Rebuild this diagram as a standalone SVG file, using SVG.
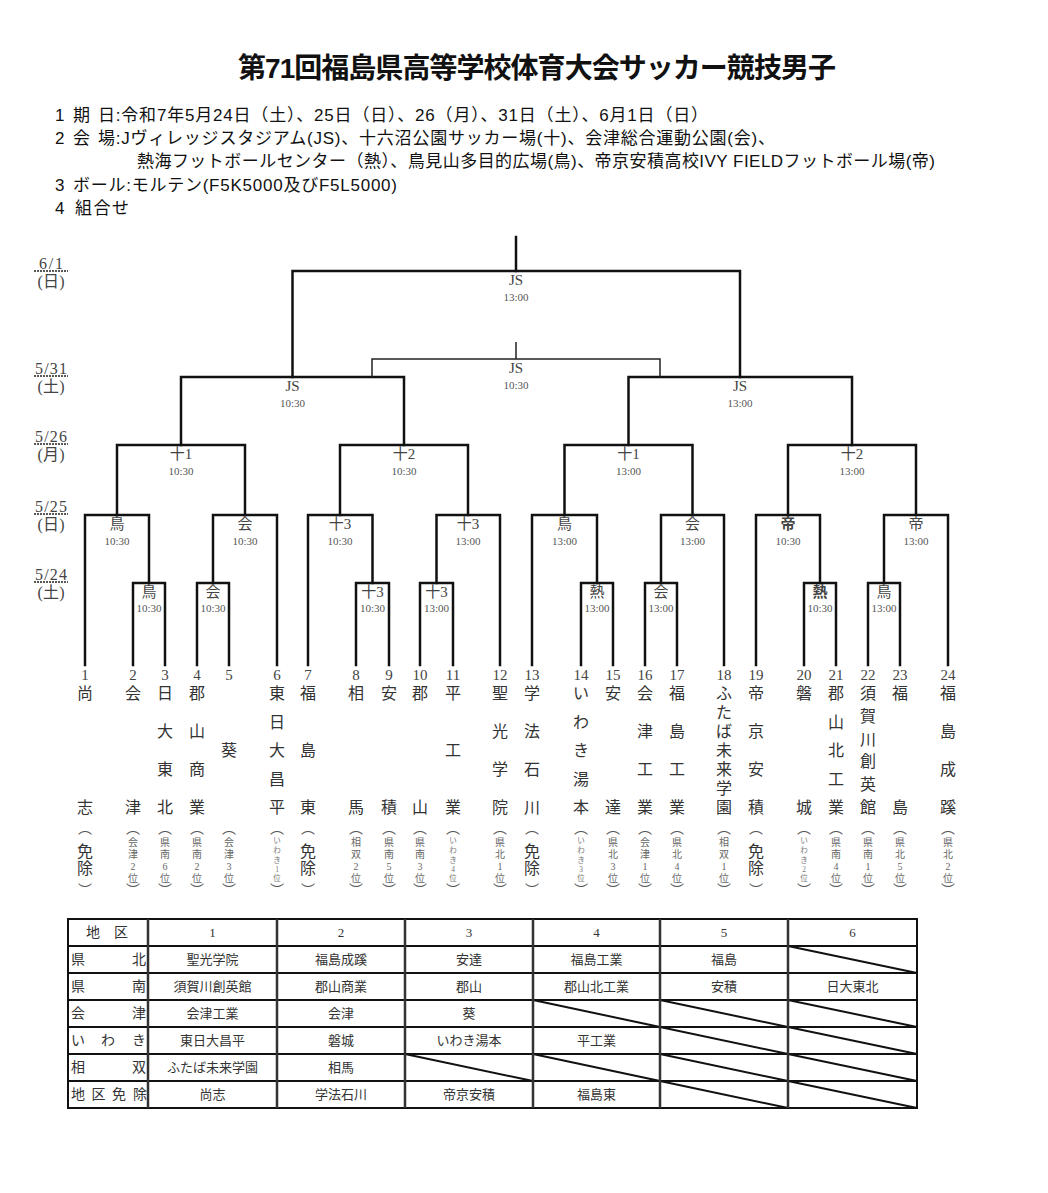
<svg xmlns="http://www.w3.org/2000/svg" width="1048" height="1193" viewBox="0 0 1048 1193">
<style>
.bg{fill:#fff}
.ln{fill:none;stroke:#111;stroke-width:2.5;stroke-linecap:square}
.thin{fill:none;stroke:#222;stroke-width:1.5}
.hd{font-family:"Liberation Sans","Noto Sans CJK JP",sans-serif;font-size:17px;fill:#111;dominant-baseline:central}
.ttl{font-family:"Liberation Sans","Noto Sans CJK JP",sans-serif;font-size:28px;font-weight:bold;fill:#111;dominant-baseline:central;text-anchor:middle}
.sf{font-family:"Liberation Serif","Noto Sans CJK JP",serif;text-anchor:middle;dominant-baseline:central}
.vn{font-size:15px;fill:#444}
.tm{font-size:11px;fill:#555}
.dt{font-size:16px;fill:#444}
.num{font-size:15px;fill:#444}
.nm{font-size:16px;fill:#333}
.pr{font-size:14px;fill:#555}
.s10{font-size:10px;fill:#666}
.s8{font-size:7.5px;fill:#777}
.dot{stroke:#222;stroke-width:1.5;stroke-dasharray:2 1}
.tb{fill:none;stroke:#111;stroke-width:2}
.tv{stroke:#333;stroke-width:2.5}
.tc{font-size:13px;fill:#333}
.tl{font-family:"Liberation Serif","Noto Sans CJK JP",serif;font-size:14px;fill:#333;dominant-baseline:central}
</style>
<rect class="bg" x="0" y="0" width="1048" height="1193"/>

<g id="header">
<text class="ttl" x="537" y="68" textLength="598">第71回福島県高等学校体育大会サッカー競技男子</text>
<text class="hd" x="55" y="115">1</text><text class="hd" x="73" y="115">期</text>
<text class="hd" x="98" y="115" textLength="610">日:令和7年5月24日（土）、25日（日）、26（月）、31日（土）、6月1日（日）</text>
<text class="hd" x="55" y="138">2</text><text class="hd" x="73" y="138">会</text>
<text class="hd" x="98" y="138" textLength="677">場:Jヴィレッジスタジアム(JS)、十六沼公園サッカー場(十)、会津総合運動公園(会)、</text>
<text class="hd" x="137" y="161" textLength="798">熱海フットボールセンター（熱）、鳥見山多目的広場(鳥)、帝京安積高校IVY FIELDフットボール場(帝)</text>
<text class="hd" x="55" y="185">3</text>
<text class="hd" x="73" y="185" textLength="324">ボール:モルテン(F5K5000及びF5L5000)</text>
<text class="hd" x="55" y="208">4</text><text class="hd" x="75" y="208" textLength="54">組合せ</text>
</g>

<g id="dates" class="sf dt">
<text x="51" y="263" textLength="24">6/1</text><line class="dot" x1="34" y1="271" x2="68" y2="271"/><text x="51" y="281" textLength="27">(日)</text>
<text x="51" y="368" textLength="32">5/31</text><line class="dot" x1="34" y1="376" x2="68" y2="376"/><text x="51" y="386" textLength="27">(土)</text>
<text x="51" y="436" textLength="32">5/26</text><line class="dot" x1="34" y1="444" x2="68" y2="444"/><text x="51" y="454" textLength="27">(月)</text>
<text x="51" y="506" textLength="32">5/25</text><line class="dot" x1="34" y1="514" x2="68" y2="514"/><text x="51" y="524" textLength="27">(日)</text>
<text x="51" y="574" textLength="32">5/24</text><line class="dot" x1="34" y1="582" x2="68" y2="582"/><text x="51" y="592" textLength="27">(土)</text>
</g>

<g id="connectors">
<path class="ln" d="M133,665V583H165V665"/>
<path class="ln" d="M197,665V583H229V665"/>
<path class="ln" d="M356,665V583H389V665"/>
<path class="ln" d="M420,665V583H453V665"/>
<path class="ln" d="M581,665V583H613V665"/>
<path class="ln" d="M645,665V583H677V665"/>
<path class="ln" d="M804,665V583H836V665"/>
<path class="ln" d="M868,665V583H900V665"/>
<path class="ln" d="M85,665V515H149V583"/>
<path class="ln" d="M213,583V515H277V665"/>
<path class="ln" d="M308,665V515H372.5V583"/>
<path class="ln" d="M436.5,583V515H500V665"/>
<path class="ln" d="M532,665V515H597V583"/>
<path class="ln" d="M661,583V515H724V665"/>
<path class="ln" d="M756,665V515H820V583"/>
<path class="ln" d="M884,583V515H948V665"/>
<path class="ln" d="M117,515V445H245V515"/>
<path class="ln" d="M340,515V445H468V515"/>
<path class="ln" d="M564.5,515V445H692.5V515"/>
<path class="ln" d="M788,515V445H916V515"/>
<path class="ln" d="M181,445V377H404V445"/>
<path class="ln" d="M628.5,445V377H852V445"/>
<path class="ln" d="M292.5,377V271H740V377"/>
<path class="ln" d="M516,271V237"/>
<path class="thin" d="M372,377V359H660V377"/>
<path class="thin" d="M516,359V342"/>
</g>

<g id="matches" class="sf">
<g id="m-final"><text class="vn" x="516" y="280">JS</text><text class="tm" x="516" y="297">13:00</text></g>
<g id="m-mid"><text class="vn" x="516" y="368">JS</text><text class="tm" x="516" y="385">10:30</text></g>
<g id="m-sf1"><text class="vn" x="292.5" y="386">JS</text><text class="tm" x="292.5" y="403">10:30</text></g>
<g id="m-sf2"><text class="vn" x="740" y="386">JS</text><text class="tm" x="740" y="403">13:00</text></g>
<g id="m-r3a"><text class="vn" x="181" y="454">十1</text><text class="tm" x="181" y="471">10:30</text></g>
<g id="m-r3b"><text class="vn" x="404" y="454">十2</text><text class="tm" x="404" y="471">10:30</text></g>
<g id="m-r3c"><text class="vn" x="628.5" y="454">十1</text><text class="tm" x="628.5" y="471">13:00</text></g>
<g id="m-r3d"><text class="vn" x="852" y="454">十2</text><text class="tm" x="852" y="471">13:00</text></g>
<g id="m-r2a"><text class="vn" x="117" y="524">鳥</text><text class="tm" x="117" y="541">10:30</text></g>
<g id="m-r2b"><text class="vn" x="245" y="524">会</text><text class="tm" x="245" y="541">10:30</text></g>
<g id="m-r2c"><text class="vn" x="340" y="524">十3</text><text class="tm" x="340" y="541">10:30</text></g>
<g id="m-r2d"><text class="vn" x="468" y="524">十3</text><text class="tm" x="468" y="541">13:00</text></g>
<g id="m-r2e"><text class="vn" x="564.5" y="524">鳥</text><text class="tm" x="564.5" y="541">13:00</text></g>
<g id="m-r2f"><text class="vn" x="692.5" y="524">会</text><text class="tm" x="692.5" y="541">13:00</text></g>
<g id="m-r2g"><text class="vn" x="788" y="524" font-weight="bold">帝</text><text class="tm" x="788" y="541">10:30</text></g>
<g id="m-r2h"><text class="vn" x="916" y="524">帝</text><text class="tm" x="916" y="541">13:00</text></g>
<g id="m-r1a"><text class="vn" x="149" y="592">鳥</text><text class="tm" x="149" y="608">10:30</text></g>
<g id="m-r1b"><text class="vn" x="213" y="592">会</text><text class="tm" x="213" y="608">10:30</text></g>
<g id="m-r1c"><text class="vn" x="372.5" y="592">十3</text><text class="tm" x="372.5" y="608">10:30</text></g>
<g id="m-r1d"><text class="vn" x="436.5" y="592">十3</text><text class="tm" x="436.5" y="608">13:00</text></g>
<g id="m-r1e"><text class="vn" x="597" y="592">熱</text><text class="tm" x="597" y="608">13:00</text></g>
<g id="m-r1f"><text class="vn" x="661" y="592">会</text><text class="tm" x="661" y="608">13:00</text></g>
<g id="m-r1g"><text class="vn" x="820" y="592" font-weight="bold">熱</text><text class="tm" x="820" y="608">10:30</text></g>
<g id="m-r1h"><text class="vn" x="884" y="592">鳥</text><text class="tm" x="884" y="608">13:00</text></g>
</g>

<g id="teams" class="sf">
<g id="team1"><text class="num" x="85" y="675">1</text><text class="nm"><tspan x="85" y="693">尚</tspan><tspan x="85" y="807">志</tspan></text><text class="pr" x="85" y="828">︵</text><text class="nm"><tspan x="85" y="851">免</tspan><tspan x="85" y="868">除</tspan></text><text class="pr" x="85" y="890">︶</text></g>
<g id="team2"><text class="num" x="133" y="675">2</text><text class="nm"><tspan x="133" y="693">会</tspan><tspan x="133" y="807">津</tspan></text><text class="pr" x="133" y="828">︵</text><text class="s10"><tspan x="133" y="842">会</tspan><tspan x="133" y="854">津</tspan><tspan x="133" y="866">2</tspan><tspan x="133" y="878">位</tspan></text><text class="pr" x="133" y="890">︶</text></g>
<g id="team3"><text class="num" x="165" y="675">3</text><text class="nm"><tspan x="165" y="693">日</tspan><tspan x="165" y="731">大</tspan><tspan x="165" y="769">東</tspan><tspan x="165" y="807">北</tspan></text><text class="pr" x="165" y="828">︵</text><text class="s10"><tspan x="165" y="842">県</tspan><tspan x="165" y="854">南</tspan><tspan x="165" y="866">6</tspan><tspan x="165" y="878">位</tspan></text><text class="pr" x="165" y="890">︶</text></g>
<g id="team4"><text class="num" x="197" y="675">4</text><text class="nm"><tspan x="197" y="693">郡</tspan><tspan x="197" y="731">山</tspan><tspan x="197" y="769">商</tspan><tspan x="197" y="807">業</tspan></text><text class="pr" x="197" y="828">︵</text><text class="s10"><tspan x="197" y="842">県</tspan><tspan x="197" y="854">南</tspan><tspan x="197" y="866">2</tspan><tspan x="197" y="878">位</tspan></text><text class="pr" x="197" y="890">︶</text></g>
<g id="team5"><text class="num" x="229" y="675">5</text><text class="nm"><tspan x="229" y="750">葵</tspan></text><text class="pr" x="229" y="828">︵</text><text class="s10"><tspan x="229" y="842">会</tspan><tspan x="229" y="854">津</tspan><tspan x="229" y="866">3</tspan><tspan x="229" y="878">位</tspan></text><text class="pr" x="229" y="890">︶</text></g>
<g id="team6"><text class="num" x="277" y="675">6</text><text class="nm"><tspan x="277" y="693">東</tspan><tspan x="277" y="721.5">日</tspan><tspan x="277" y="750">大</tspan><tspan x="277" y="778.5">昌</tspan><tspan x="277" y="807">平</tspan></text><text class="pr" x="277" y="828">︵</text><text class="s8"><tspan x="277" y="840">い</tspan><tspan x="277" y="850">わ</tspan><tspan x="277" y="860">き</tspan><tspan x="277" y="869">1</tspan><tspan x="277" y="878">位</tspan></text><text class="pr" x="277" y="890">︶</text></g>
<g id="team7"><text class="num" x="308" y="675">7</text><text class="nm"><tspan x="308" y="693">福</tspan><tspan x="308" y="750">島</tspan><tspan x="308" y="807">東</tspan></text><text class="pr" x="308" y="828">︵</text><text class="nm"><tspan x="308" y="851">免</tspan><tspan x="308" y="868">除</tspan></text><text class="pr" x="308" y="890">︶</text></g>
<g id="team8"><text class="num" x="356" y="675">8</text><text class="nm"><tspan x="356" y="693">相</tspan><tspan x="356" y="807">馬</tspan></text><text class="pr" x="356" y="828">︵</text><text class="s10"><tspan x="356" y="842">相</tspan><tspan x="356" y="854">双</tspan><tspan x="356" y="866">2</tspan><tspan x="356" y="878">位</tspan></text><text class="pr" x="356" y="890">︶</text></g>
<g id="team9"><text class="num" x="389" y="675">9</text><text class="nm"><tspan x="389" y="693">安</tspan><tspan x="389" y="807">積</tspan></text><text class="pr" x="389" y="828">︵</text><text class="s10"><tspan x="389" y="842">県</tspan><tspan x="389" y="854">南</tspan><tspan x="389" y="866">5</tspan><tspan x="389" y="878">位</tspan></text><text class="pr" x="389" y="890">︶</text></g>
<g id="team10"><text class="num" x="420" y="675">10</text><text class="nm"><tspan x="420" y="693">郡</tspan><tspan x="420" y="807">山</tspan></text><text class="pr" x="420" y="828">︵</text><text class="s10"><tspan x="420" y="842">県</tspan><tspan x="420" y="854">南</tspan><tspan x="420" y="866">3</tspan><tspan x="420" y="878">位</tspan></text><text class="pr" x="420" y="890">︶</text></g>
<g id="team11"><text class="num" x="453" y="675">11</text><text class="nm"><tspan x="453" y="693">平</tspan><tspan x="453" y="750">工</tspan><tspan x="453" y="807">業</tspan></text><text class="pr" x="453" y="828">︵</text><text class="s8"><tspan x="453" y="840">い</tspan><tspan x="453" y="850">わ</tspan><tspan x="453" y="860">き</tspan><tspan x="453" y="869">4</tspan><tspan x="453" y="878">位</tspan></text><text class="pr" x="453" y="890">︶</text></g>
<g id="team12"><text class="num" x="500" y="675">12</text><text class="nm"><tspan x="500" y="693">聖</tspan><tspan x="500" y="731">光</tspan><tspan x="500" y="769">学</tspan><tspan x="500" y="807">院</tspan></text><text class="pr" x="500" y="828">︵</text><text class="s10"><tspan x="500" y="842">県</tspan><tspan x="500" y="854">北</tspan><tspan x="500" y="866">1</tspan><tspan x="500" y="878">位</tspan></text><text class="pr" x="500" y="890">︶</text></g>
<g id="team13"><text class="num" x="532" y="675">13</text><text class="nm"><tspan x="532" y="693">学</tspan><tspan x="532" y="731">法</tspan><tspan x="532" y="769">石</tspan><tspan x="532" y="807">川</tspan></text><text class="pr" x="532" y="828">︵</text><text class="nm"><tspan x="532" y="851">免</tspan><tspan x="532" y="868">除</tspan></text><text class="pr" x="532" y="890">︶</text></g>
<g id="team14"><text class="num" x="581" y="675">14</text><text class="nm"><tspan x="581" y="693">い</tspan><tspan x="581" y="721.5">わ</tspan><tspan x="581" y="750">き</tspan><tspan x="581" y="778.5">湯</tspan><tspan x="581" y="807">本</tspan></text><text class="pr" x="581" y="828">︵</text><text class="s8"><tspan x="581" y="840">い</tspan><tspan x="581" y="850">わ</tspan><tspan x="581" y="860">き</tspan><tspan x="581" y="869">3</tspan><tspan x="581" y="878">位</tspan></text><text class="pr" x="581" y="890">︶</text></g>
<g id="team15"><text class="num" x="613" y="675">15</text><text class="nm"><tspan x="613" y="693">安</tspan><tspan x="613" y="807">達</tspan></text><text class="pr" x="613" y="828">︵</text><text class="s10"><tspan x="613" y="842">県</tspan><tspan x="613" y="854">北</tspan><tspan x="613" y="866">3</tspan><tspan x="613" y="878">位</tspan></text><text class="pr" x="613" y="890">︶</text></g>
<g id="team16"><text class="num" x="645" y="675">16</text><text class="nm"><tspan x="645" y="693">会</tspan><tspan x="645" y="731">津</tspan><tspan x="645" y="769">工</tspan><tspan x="645" y="807">業</tspan></text><text class="pr" x="645" y="828">︵</text><text class="s10"><tspan x="645" y="842">会</tspan><tspan x="645" y="854">津</tspan><tspan x="645" y="866">1</tspan><tspan x="645" y="878">位</tspan></text><text class="pr" x="645" y="890">︶</text></g>
<g id="team17"><text class="num" x="677" y="675">17</text><text class="nm"><tspan x="677" y="693">福</tspan><tspan x="677" y="731">島</tspan><tspan x="677" y="769">工</tspan><tspan x="677" y="807">業</tspan></text><text class="pr" x="677" y="828">︵</text><text class="s10"><tspan x="677" y="842">県</tspan><tspan x="677" y="854">北</tspan><tspan x="677" y="866">4</tspan><tspan x="677" y="878">位</tspan></text><text class="pr" x="677" y="890">︶</text></g>
<g id="team18"><text class="num" x="724" y="675">18</text><text class="nm"><tspan x="724" y="693">ふ</tspan><tspan x="724" y="712">た</tspan><tspan x="724" y="731">ば</tspan><tspan x="724" y="750">未</tspan><tspan x="724" y="769">来</tspan><tspan x="724" y="788">学</tspan><tspan x="724" y="807">園</tspan></text><text class="pr" x="724" y="828">︵</text><text class="s10"><tspan x="724" y="842">相</tspan><tspan x="724" y="854">双</tspan><tspan x="724" y="866">1</tspan><tspan x="724" y="878">位</tspan></text><text class="pr" x="724" y="890">︶</text></g>
<g id="team19"><text class="num" x="756" y="675">19</text><text class="nm"><tspan x="756" y="693">帝</tspan><tspan x="756" y="731">京</tspan><tspan x="756" y="769">安</tspan><tspan x="756" y="807">積</tspan></text><text class="pr" x="756" y="828">︵</text><text class="nm"><tspan x="756" y="851">免</tspan><tspan x="756" y="868">除</tspan></text><text class="pr" x="756" y="890">︶</text></g>
<g id="team20"><text class="num" x="804" y="675">20</text><text class="nm"><tspan x="804" y="693">磐</tspan><tspan x="804" y="807">城</tspan></text><text class="pr" x="804" y="828">︵</text><text class="s8"><tspan x="804" y="840">い</tspan><tspan x="804" y="850">わ</tspan><tspan x="804" y="860">き</tspan><tspan x="804" y="869">2</tspan><tspan x="804" y="878">位</tspan></text><text class="pr" x="804" y="890">︶</text></g>
<g id="team21"><text class="num" x="836" y="675">21</text><text class="nm"><tspan x="836" y="693">郡</tspan><tspan x="836" y="721.5">山</tspan><tspan x="836" y="750">北</tspan><tspan x="836" y="778.5">工</tspan><tspan x="836" y="807">業</tspan></text><text class="pr" x="836" y="828">︵</text><text class="s10"><tspan x="836" y="842">県</tspan><tspan x="836" y="854">南</tspan><tspan x="836" y="866">4</tspan><tspan x="836" y="878">位</tspan></text><text class="pr" x="836" y="890">︶</text></g>
<g id="team22"><text class="num" x="868" y="675">22</text><text class="nm"><tspan x="868" y="693">須</tspan><tspan x="868" y="715.8">賀</tspan><tspan x="868" y="738.6">川</tspan><tspan x="868" y="761.4">創</tspan><tspan x="868" y="784.2">英</tspan><tspan x="868" y="807">館</tspan></text><text class="pr" x="868" y="828">︵</text><text class="s10"><tspan x="868" y="842">県</tspan><tspan x="868" y="854">南</tspan><tspan x="868" y="866">1</tspan><tspan x="868" y="878">位</tspan></text><text class="pr" x="868" y="890">︶</text></g>
<g id="team23"><text class="num" x="900" y="675">23</text><text class="nm"><tspan x="900" y="693">福</tspan><tspan x="900" y="807">島</tspan></text><text class="pr" x="900" y="828">︵</text><text class="s10"><tspan x="900" y="842">県</tspan><tspan x="900" y="854">北</tspan><tspan x="900" y="866">5</tspan><tspan x="900" y="878">位</tspan></text><text class="pr" x="900" y="890">︶</text></g>
<g id="team24"><text class="num" x="948" y="675">24</text><text class="nm"><tspan x="948" y="693">福</tspan><tspan x="948" y="731">島</tspan><tspan x="948" y="769">成</tspan><tspan x="948" y="807">蹊</tspan></text><text class="pr" x="948" y="828">︵</text><text class="s10"><tspan x="948" y="842">県</tspan><tspan x="948" y="854">北</tspan><tspan x="948" y="866">2</tspan><tspan x="948" y="878">位</tspan></text><text class="pr" x="948" y="890">︶</text></g>
</g>

<g id="table">
<g class="tb">
<rect x="68" y="919" width="849" height="189"/>
<path d="M68,946H917M68,973H917M68,1000H917M68,1027H917M68,1054H917M68,1081H917"/>
<path d="M788,946L917,973M533,1000L660,1027M660,1000L788,1027M788,1000L917,1027M660,1027L788,1054M788,1027L917,1054M405,1054L533,1081M533,1054L660,1081M660,1054L788,1081M788,1054L917,1081M660,1081L788,1108M788,1081L917,1108"/>
</g>
<path class="tv" d="M148,919V1108M277,919V1108M405,919V1108M533,919V1108M660,919V1108M788,919V1108"/>
<g class="sf tc">
<text x="107" y="932.5" font-size="14">地　区</text>
<text x="212.5" y="932.5">1</text><text x="341" y="932.5">2</text><text x="469" y="932.5">3</text><text x="596.5" y="932.5">4</text><text x="724" y="932.5">5</text><text x="852.5" y="932.5">6</text>
<text x="212.5" y="959.5">聖光学院</text><text x="341" y="959.5">福島成蹊</text><text x="469" y="959.5">安達</text><text x="596.5" y="959.5">福島工業</text><text x="724" y="959.5">福島</text>
<text x="212.5" y="986.5">須賀川創英館</text><text x="341" y="986.5">郡山商業</text><text x="469" y="986.5">郡山</text><text x="596.5" y="986.5">郡山北工業</text><text x="724" y="986.5">安積</text><text x="852.5" y="986.5">日大東北</text>
<text x="212.5" y="1013.5">会津工業</text><text x="341" y="1013.5">会津</text><text x="469" y="1013.5">葵</text>
<text x="212.5" y="1040.5">東日大昌平</text><text x="341" y="1040.5">磐城</text><text x="469" y="1040.5">いわき湯本</text><text x="596.5" y="1040.5">平工業</text>
<text x="212.5" y="1067.5">ふたば未来学園</text><text x="341" y="1067.5">相馬</text>
<text x="212.5" y="1094.5">尚志</text><text x="341" y="1094.5">学法石川</text><text x="469" y="1094.5">帝京安積</text><text x="596.5" y="1094.5">福島東</text>
</g>
<g>
<text class="tl" x="71" y="959.5">県</text><text class="tl" x="146" y="959.5" text-anchor="end">北</text>
<text class="tl" x="71" y="986.5">県</text><text class="tl" x="146" y="986.5" text-anchor="end">南</text>
<text class="tl" x="71" y="1013.5">会</text><text class="tl" x="146" y="1013.5" text-anchor="end">津</text>
<text class="tl" x="71" y="1040.5">い</text><text class="tl" x="108" y="1040.5" text-anchor="middle">わ</text><text class="tl" x="146" y="1040.5" text-anchor="end">き</text>
<text class="tl" x="71" y="1067.5">相</text><text class="tl" x="146" y="1067.5" text-anchor="end">双</text>
<text class="tl" x="78" y="1094.5" font-size="12" text-anchor="middle">地</text><text class="tl" x="98.5" y="1094.5" font-size="12" text-anchor="middle">区</text><text class="tl" x="119" y="1094.5" font-size="12" text-anchor="middle">免</text><text class="tl" x="140" y="1094.5" font-size="12" text-anchor="middle">除</text>
</g>
</g>
</svg>
